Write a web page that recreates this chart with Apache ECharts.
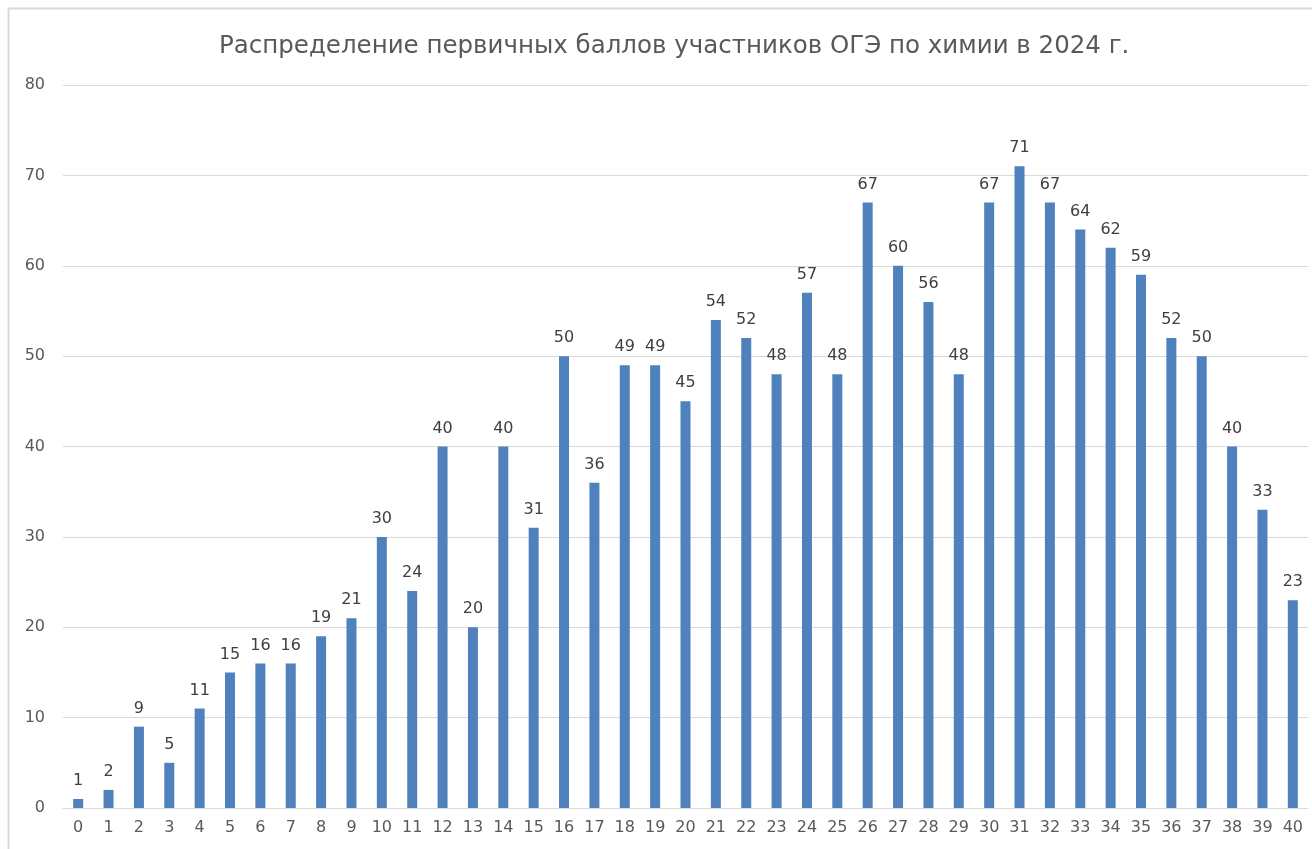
<!DOCTYPE html>
<html>
<head>
<meta charset="utf-8">
<script src="https://cdn.jsdelivr.net/npm/echarts@6/dist/echarts.min.js"></script>
<style>
  html, body { margin: 0; padding: 0; background: #fff; }
  #chart { width: 1312px; height: 849px; }
</style>
</head>
<body>
<div id="chart"></div>
<script>
  var titleText = 'Распределение первичных баллов участников ОГЭ по химии в 2024 г.';
  var scores = ['0','1','2','3','4','5','6','7','8','9','10','11','12','13','14','15','16','17','18','19','20',
                '21','22','23','24','25','26','27','28','29','30','31','32','33','34','35','36','37','38','39','40'];
  var counts = [1, 2, 9, 5, 11, 15, 16, 16, 19, 21, 30, 24, 40, 20, 40, 31, 50, 36, 49, 49, 45,
                54, 52, 48, 57, 48, 67, 60, 56, 48, 67, 71, 67, 64, 62, 59, 52, 50, 40, 33, 23];

  var chart = echarts.init(document.getElementById('chart'));
  var font = '"DejaVu Sans", sans-serif';

  chart.setOption({
    animation: false,
    backgroundColor: '#fff',
    title: {
      text: titleText,
      left: 214,
      top: 29,
      textStyle: { fontFamily: font, fontSize: 24.5, fontWeight: 'normal', color: '#595959' }
    },
    graphic: [{
      type: 'rect',
      shape: { x: 8.5, y: 8.5, width: 1400, height: 1000 },
      style: { fill: 'none', stroke: '#d9d9d9', lineWidth: 2 },
      silent: true
    }],
    grid: { left: 63, right: 4, top: 85, bottom: 41 },
    xAxis: {
      type: 'category',
      data: scores,
      axisLine: { lineStyle: { color: '#d9d9d9', width: 1 } },
      axisTick: { show: false },
      axisLabel: { fontFamily: font, fontSize: 16, color: '#595959', margin: 12, interval: 0 }
    },
    yAxis: {
      type: 'value',
      min: 0,
      max: 80,
      interval: 10,
      axisLine: { show: false },
      axisTick: { show: false },
      splitLine: { lineStyle: { color: '#d9d9d9', width: 1 } },
      axisLabel: { fontFamily: font, fontSize: 16, color: '#595959', margin: 18 }
    },
    series: [{
      type: 'bar',
      data: counts,
      barWidth: 10,
      itemStyle: { color: '#4f81bd' },
      label: {
        show: true,
        position: 'top',
        distance: 10,
        fontFamily: font,
        fontSize: 16,
        color: '#404040'
      }
    }]
  });
</script>
</body>
</html>
